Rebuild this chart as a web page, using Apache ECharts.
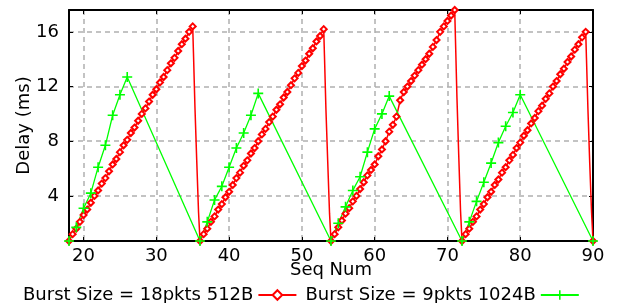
<!DOCTYPE html>
<html>
<head>
<meta charset="utf-8">
<script src="https://cdn.jsdelivr.net/npm/echarts@6/dist/echarts.min.js"></script>
<style>
  html, body { margin: 0; padding: 0; background: #fff; }
  #main { width: 625px; height: 303px; }
</style>
</head>
<body>
<div id="main"></div>
<script>
// tick labels
var xTicks = [20, 30, 40, 50, 60, 70, 80, 90];
var yTicks = [4, 8, 12, 16];

var seriesNames = ['Burst Size = 18pkts 512B', 'Burst Size = 9pkts 1024B'];

// red: 512B packets, sampled every half seq num, one sawtooth per 18 seq nums
var redStep = 0.5;
var redCycleStart = [18, 36, 54, 72];
var redRise1 = [0.7, 1.2, 1.6, 2.1, 2.6, 3.0, 3.5, 4.0, 4.4, 4.9, 5.3, 5.8, 6.3, 6.7, 7.2, 7.7, 8.1, 8.6,
                9.0, 9.5, 10.0, 10.4, 10.9, 11.4, 11.8, 12.3, 12.7, 13.2, 13.7, 14.1, 14.6, 15.1, 15.5, 16.0, 16.4];
var redRise2 = [0.7, 1.2, 1.6, 2.1, 2.5, 3.0, 3.4, 3.9, 4.3, 4.8, 5.3, 5.7, 6.2, 6.6, 7.1, 7.5, 8.0, 8.5,
                8.9, 9.4, 9.8, 10.3, 10.7, 11.2, 11.6, 12.1, 12.6, 13.0, 13.5, 13.9, 14.4, 14.8, 15.3, 15.7, 16.2];
var redRise3 = [0.7, 1.2, 1.7, 2.2, 2.7, 3.1, 3.6, 4.0, 4.5, 5.0, 5.5, 5.9, 6.3, 6.9, 7.4, 8.0, 8.7, 9.2,
                9.8, 11.0, 11.6, 12.0, 12.4, 12.8, 13.2, 13.6, 14.0, 14.4, 14.9, 15.4, 16.0, 16.4, 16.8, 17.2, 17.6];
var redRise4 = [0.7, 1.2, 1.6, 2.1, 2.5, 3.0, 3.4, 3.9, 4.3, 4.8, 5.2, 5.7, 6.1, 6.6, 7.0, 7.5, 7.9, 8.4,
                8.8, 9.3, 9.7, 10.2, 10.6, 11.1, 11.5, 12.0, 12.4, 12.9, 13.3, 13.8, 14.2, 14.7, 15.1, 15.6, 16.0];
var redRise = [redRise1, redRise2, redRise3, redRise4];
// the steep fall after each peak (offset from cycle start, delay)
var redDropOffset = [17.1, 17.3, 17.55, 17.8];
var redDrop = [
    [14.5, 10.6, 6.6, 2.8],
    [14.3, 10.4, 6.5, 2.7],
    [15.5, 11.3, 7.0, 2.9],
    [14.1, 10.4, 6.4, 2.8]
];
var redEnd = [90, 0.7];

// green: 1024B packets
var greenSeq = [18, 19, 20, 21, 22, 23, 24, 25, 26,
                36, 37, 38, 39, 40, 41, 42, 43, 44,
                54, 55, 56, 57, 58, 59, 60, 61, 62,
                72, 73, 74, 75, 76, 77, 78, 79, 80,
                90];
var greenDelay = [0.7, 1.7, 3.1, 4.2, 6.1, 7.7, 9.9, 11.4, 12.7,
                  0.7, 2.1, 3.7, 4.7, 6.1, 7.5, 8.6, 9.9, 11.5,
                  0.7, 2.0, 3.2, 4.4, 5.4, 7.2, 8.9, 10.0, 11.3,
                  0.7, 2.1, 3.6, 5.0, 6.4, 7.9, 9.1, 10.1, 11.4,
                  0.7];

var redData = [];
redCycleStart.forEach(function (start, c) {
    redRise[c].forEach(function (v, i) {
        redData.push([start + i * redStep, v]);
    });
    redDropOffset.forEach(function (off, k) {
        redData.push({value: [start + off, redDrop[c][k]], symbol: 'none'});
    });
});
redData.push(redEnd);

var greenData = greenSeq.map(function (s, i) {
    return [s, greenDelay[i]];
});

var font = 'DejaVu Sans';
var gridLine = {show: true, lineStyle: {color: '#b0b0b0', width: 1.5, type: [5, 4]}};
var frameLine = {show: true, onZero: false, lineStyle: {color: '#000', width: 2}};

var myChart = echarts.init(document.getElementById('main'));
var option = {
    animation: false,
    backgroundColor: '#fff',
    grid: {left: 69, right: 32, top: 10, bottom: 62},
    legend: {
        left: 18,
        top: 281,
        align: 'right',
        itemGap: 8,
        itemWidth: 38,
        itemHeight: 12,
        textStyle: {fontFamily: font, fontSize: 18, color: '#000'},
        data: seriesNames
    },
    xAxis: [
        {
            type: 'value',
            position: 'bottom',
            min: 18,
            max: 90,
            name: 'Seq Num',
            nameLocation: 'middle',
            nameGap: 20,
            nameMoveOverlap: false,
            nameTextStyle: {fontFamily: font, fontSize: 18, color: '#000'},
            axisLine: frameLine,
            axisTick: {inside: true, length: 4, customValues: xTicks, lineStyle: {color: '#000'}},
            axisLabel: {customValues: xTicks, margin: 6, fontFamily: font, fontSize: 18, color: '#000'},
            splitLine: gridLine
        },
        {
            type: 'value',
            position: 'top',
            min: 18,
            max: 90,
            axisLine: frameLine,
            axisTick: {inside: true, length: 4, customValues: xTicks, lineStyle: {color: '#000'}},
            axisLabel: {show: false},
            splitLine: {show: false}
        }
    ],
    yAxis: [
        {
            type: 'value',
            position: 'left',
            min: 0.7,
            max: 17.6,
            name: 'Delay (ms)',
            nameLocation: 'middle',
            nameGap: 36,
            nameMoveOverlap: false,
            nameTextStyle: {fontFamily: font, fontSize: 18, color: '#000'},
            axisLine: frameLine,
            axisTick: {show: true, inside: true, length: 4, customValues: yTicks, lineStyle: {color: '#000'}},
            axisLabel: {customValues: yTicks, margin: 10, fontFamily: font, fontSize: 18, color: '#000'},
            splitLine: gridLine
        },
        {
            type: 'value',
            position: 'right',
            min: 0.7,
            max: 17.6,
            axisLine: frameLine,
            axisTick: {show: true, inside: true, length: 4, customValues: yTicks, lineStyle: {color: '#000'}},
            axisLabel: {show: false},
            splitLine: {show: false}
        }
    ],
    series: [
        {
            name: seriesNames[0],
            type: 'line',
            symbol: 'emptyDiamond',
            symbolSize: 6,
            showAllSymbol: true,
            itemStyle: {color: '#ff0000', borderWidth: 1},
            lineStyle: {color: '#ff0000', width: 1.5},
            data: redData
        },
        {
            name: seriesNames[1],
            type: 'line',
            symbol: 'path://M0,4.2H10V5.8H0Z M4.2,0H5.8V10H4.2Z',
            symbolSize: 10,
            showAllSymbol: true,
            itemStyle: {color: '#00ff00'},
            lineStyle: {color: '#00ff00', width: 1.3},
            data: greenData
        }
    ]
};
myChart.setOption(option);
</script>
</body>
</html>
